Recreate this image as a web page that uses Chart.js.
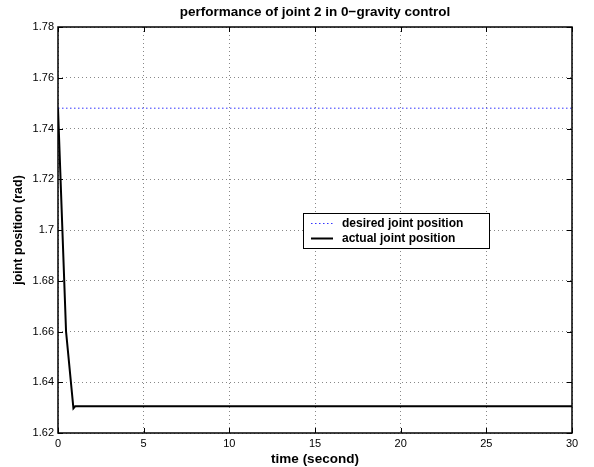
<!DOCTYPE html>
<html>
<head>
<meta charset="utf-8">
<title>performance of joint 2</title>
<script src="https://cdn.jsdelivr.net/npm/chart.js@4/dist/chart.umd.min.js"></script>
<style>
    html, body { margin: 0; padding: 0; background: #fff; }
    #wrap { width: 594px; height: 467px; position: relative; }
</style>
</head>
<body>
<div id="wrap"><canvas id="jointChart"></canvas></div>
<script>
var desiredTime = [0, 30];
var desiredPos = [1.748, 1.748];

var actualTime = [0, 0.47, 0.9, 1.0, 30];
var actualPos = [1.748, 1.660, 1.6297, 1.6305, 1.6305];

var xTicks = [0, 5, 10, 15, 20, 25, 30];
var yTicks = [1.62, 1.64, 1.66, 1.68, 1.70, 1.72, 1.74, 1.76, 1.78];
var yTickLabels = ['1.62', '1.64', '1.66', '1.68', '1.7', '1.72', '1.74', '1.76', '1.78'];

var legendLabels = ['desired joint position', 'actual joint position'];

var fontFam = "'Liberation Sans', Arial, Helvetica, sans-serif";

function toPoints(xs, ys) {
    var pts = [];
    for (var i = 0; i < xs.length; i++) {
        pts.push({x: xs[i], y: ys[i]});
    }
    return pts;
}

// frame + inward tick marks like matlab
var framePlugin = {
    id: 'frame',
    afterDatasetsDraw: function(chart) {
        var ctx = chart.ctx;
        var a = chart.chartArea;
        var xs = chart.scales.x, ys = chart.scales.y;
        ctx.save();
        ctx.strokeStyle = '#000';
        ctx.lineWidth = 1;
        ctx.beginPath();
        for (var i = 0; i < xTicks.length; i++) {
            var px = Math.round(xs.getPixelForValue(xTicks[i])) + 0.5;
            ctx.moveTo(px, a.bottom); ctx.lineTo(px, a.bottom - 5);
            ctx.moveTo(px, a.top); ctx.lineTo(px, a.top + 5);
        }
        for (var j = 0; j < yTicks.length; j++) {
            var py = Math.round(ys.getPixelForValue(yTicks[j])) + 0.5;
            ctx.moveTo(a.left, py); ctx.lineTo(a.left + 5, py);
            ctx.moveTo(a.right, py); ctx.lineTo(a.right - 5, py);
        }
        ctx.stroke();
        ctx.lineWidth = 1.5;
        ctx.strokeRect(a.left, a.top, a.right - a.left, a.bottom - a.top);
        ctx.restore();
    }
};

// boxed legend inside the axes
var boxLegend = {
    id: 'boxLegend',
    afterDraw: function(chart) {
        var ctx = chart.ctx;
        var ds = chart.data.datasets;
        var bx = 303, by = 213, bw = 186, bh = 35;
        ctx.save();
        ctx.fillStyle = '#fff';
        ctx.fillRect(bx, by, bw, bh);
        ctx.strokeStyle = '#000';
        ctx.lineWidth = 1;
        ctx.strokeRect(bx + 0.5, by + 0.5, bw, bh);
        ctx.font = 'bold 12px ' + fontFam;
        ctx.textBaseline = 'middle';
        ctx.textAlign = 'left';
        for (var i = 0; i < ds.length; i++) {
            var ry = by + 10.5 + i * 15;
            ctx.strokeStyle = ds[i].borderColor;
            ctx.lineWidth = ds[i].borderWidth;
            ctx.setLineDash(ds[i].borderDash || []);
            ctx.beginPath();
            ctx.moveTo(bx + 8, ry);
            ctx.lineTo(bx + 30, ry);
            ctx.stroke();
            ctx.setLineDash([]);
            ctx.fillStyle = '#000';
            ctx.fillText(legendLabels[i], bx + 39, ry);
        }
        ctx.restore();
    }
};

var ctx = document.getElementById('jointChart');

var jointChart = new Chart(ctx, {
    type: 'scatter',
    data: {
        datasets: [
            {
                label: legendLabels[0],
                data: toPoints(desiredTime, desiredPos),
                showLine: true,
                borderColor: '#3333ff',
                borderWidth: 1,
                borderDash: [1.5, 2.5],
                pointRadius: 0,
                tension: 0
            },
            {
                label: legendLabels[1],
                data: toPoints(actualTime, actualPos),
                showLine: true,
                borderColor: '#000',
                borderWidth: 2,
                pointRadius: 0,
                tension: 0
            }
        ]
    },
    options: {
        responsive: true,
        maintainAspectRatio: false,
        animation: false,
        layout: {
            padding: {left: 0, top: 0, right: 22, bottom: 0}
        },
        plugins: {
            legend: {display: false},
            tooltip: {enabled: false},
            title: {
                display: true,
                fullSize: false,
                text: 'performance of joint 2 in 0\u2212gravity control',
                color: '#000',
                font: {family: fontFam, size: 13.5, weight: 'bold'},
                padding: {top: 4, bottom: 6.8}
            }
        },
        scales: {
            x: {
                type: 'linear',
                min: 0,
                max: 30,
                afterBuildTicks: function(scale) {
                    scale.ticks = xTicks.map(function(v) { return {value: v}; });
                },
                afterFit: function(scale) { scale.height = 34; },
                ticks: {
                    color: '#000',
                    padding: 4,
                    maxRotation: 0,
                    font: {family: fontFam, size: 11}
                },
                grid: {
                    color: '#888',
                    drawTicks: false
                },
                border: {display: false, dash: [1, 3]},
                title: {
                    display: true,
                    text: 'time (second)',
                    color: '#000',
                    font: {family: fontFam, size: 13.5, weight: 'bold'},
                    padding: {top: 0, bottom: 0}
                }
            },
            y: {
                type: 'linear',
                min: 1.62,
                max: 1.78,
                afterBuildTicks: function(scale) {
                    scale.ticks = yTicks.map(function(v) { return {value: v}; });
                },
                afterFit: function(scale) { scale.width = 58; },
                ticks: {
                    color: '#000',
                    padding: 4,
                    font: {family: fontFam, size: 11},
                    callback: function(value, index) {
                        return yTickLabels[index];
                    }
                },
                grid: {
                    color: '#888',
                    drawTicks: false
                },
                border: {display: false, dash: [1, 3]},
                title: {
                    display: true,
                    text: 'joint position (rad)',
                    color: '#000',
                    font: {family: fontFam, size: 12.5, weight: 'bold'},
                    padding: {top: 11, bottom: 0}
                }
            }
        }
    },
    plugins: [framePlugin, boxLegend]
});
</script>
</body>
</html>
